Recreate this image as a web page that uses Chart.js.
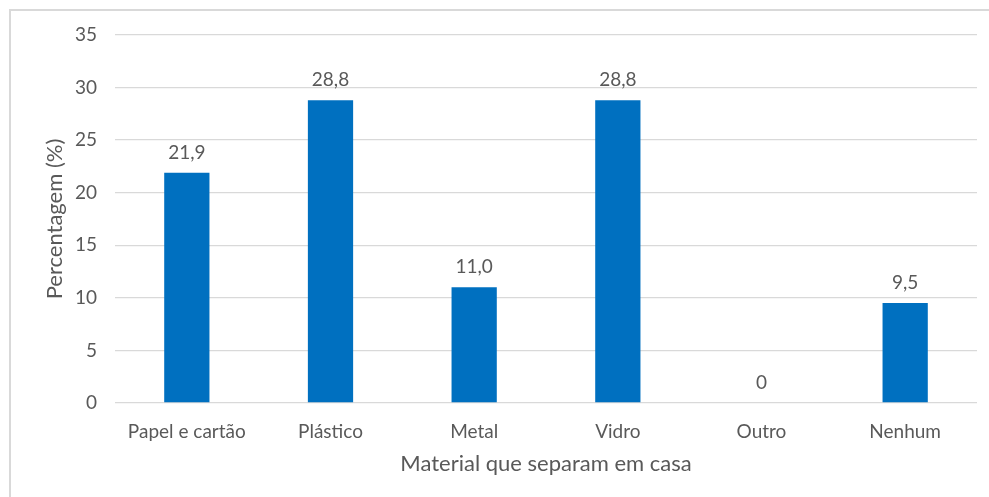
<!DOCTYPE html>
<html>
<head>
<meta charset="utf-8">
<script src="https://cdn.jsdelivr.net/npm/chart.js@4"></script>
<style>
	html, body { margin: 0; padding: 0; background: #fff; overflow: hidden; }
	#wrap { position: relative; width: 989px; height: 497px; }
	#frame { position: absolute; left: 9px; top: 9px; right: -10px; bottom: -10px; border-top: 2px solid #d9d9d9; border-left: 2px solid #d9d9d9; pointer-events: none; }
	canvas { position: absolute; left: 0; top: 0; }
</style>
</head>
<body>
<div id="wrap">
	<canvas id="chart" width="989" height="497"></canvas>
	<div id="frame"></div>
</div>
<script>
const categories = ["Papel e cartão", "Plástico", "Metal", "Vidro", "Outro", "Nenhum"];
const percentages = [21.9, 28.8, 11.0, 28.8, 0, 9.5];
const yTicks = [0, 5, 10, 15, 20, 25, 30, 35];

const textColor = "#595959";
const fontFamily = "Lato, 'Open Sans', sans-serif";

function formatValue(v) {
	// Excel style: comma decimal, plain 0 for zero
	return v === 0 ? "0" : v.toFixed(1).replace(".", ",");
}

// value labels above bars (no datalabels plugin available offline)
const valueLabels = {
	id: "valueLabels",
	afterDatasetsDraw(chart) {
		const ctx = chart.ctx;
		const meta = chart.getDatasetMeta(0);
		ctx.save();
		ctx.fillStyle = textColor;
		ctx.font = "19px " + fontFamily;
		ctx.textAlign = "center";
		ctx.textBaseline = "alphabetic";
		meta.data.forEach((bar, i) => {
			ctx.fillText(formatValue(percentages[i]), bar.x, bar.y - 14);
		});
		ctx.restore();
	},
};

const data = {
	labels: categories,
	datasets: [{
		data: percentages,
		backgroundColor: "#0070C0",
		borderWidth: 0,
		barPercentage: 0.315,
		categoryPercentage: 1,
	}],
};

const options = {
	responsive: false,
	animation: false,
	events: [],
	layout: { padding: { top: 35, right: 12, left: 0, bottom: 0 } },
	plugins: {
		legend: { display: false },
		tooltip: { enabled: false },
	},
	scales: {
		x: {
			grid: { display: false },
			border: { display: false },
			ticks: { color: textColor, font: { family: fontFamily, size: 19 }, padding: 9, maxRotation: 0 },
			title: {
				display: true,
				text: "Material que separam em casa",
				color: textColor,
				font: { family: fontFamily, size: 22 },
				padding: { top: 0, bottom: 20 },
			},
			afterFit(scale) { scale.height = 94; },
		},
		y: {
			min: 0,
			max: 35,
			afterBuildTicks(scale) { scale.ticks = yTicks.map(v => ({ value: v })); },
			grid: { color: "#d9d9d9", lineWidth: 1.3, drawTicks: false },
			border: { display: false },
			ticks: { color: textColor, font: { family: fontFamily, size: 19 }, padding: 18 },
			title: {
				display: true,
				text: "Percentagem (%)",
				color: textColor,
				font: { family: fontFamily, size: 22 },
				padding: { top: 42, bottom: 0 },
			},
			afterFit(scale) { scale.width = 115; },
		},
	},
};

window.materialChart = new Chart(document.getElementById("chart"), {
	type: "bar",
	data,
	options,
	plugins: [valueLabels],
});
</script>
</body>
</html>
